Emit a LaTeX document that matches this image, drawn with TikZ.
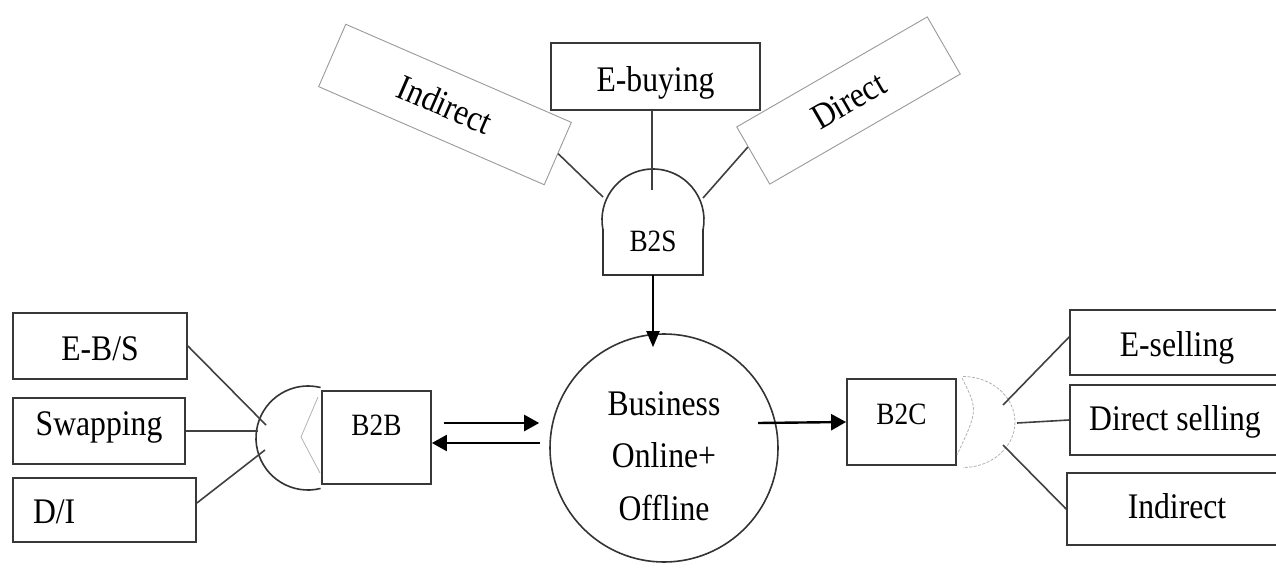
\documentclass[tikz,border=0pt]{standalone}
\usepackage{fontspec}
\setmainfont[FakeStretch=0.88]{Liberation Serif}
\usetikzlibrary{arrows.meta,calc}
% place a label so that its baseline sits #1 above the node centre
\newcommand{\basedat}[2]{\raisebox{#1}[0pt][0pt]{#2}}
\tikzset{
  box/.style={draw=black!78, line width=1.8pt, inner sep=0pt,
    font=\fontsize{36}{40}\selectfont},
  tiltbox/.style={draw=black!40, line width=0.9pt, inner sep=0pt,
    font=\fontsize{36}{40}\selectfont},
  gatebox/.style={inner sep=0pt, font=\fontsize{31}{34}\selectfont},
  link/.style={draw=black!75, line width=1.6pt},
  flow/.style={draw=black, line width=2.4pt, -{Triangle[length=15pt,width=16pt]}},
  gatefaint/.style={draw=black!30, line width=0.8pt},
}
\begin{document}
\begin{tikzpicture}[x=1pt,y=-1pt]
\useasboundingbox (0,0) rectangle (1276,570);
\clip (0,0) rectangle (1276,570);

% central process
\node[draw=black!80, line width=1.6pt, circle, minimum size=228pt, inner sep=0pt,
      font=\fontsize{36}{52.5}\selectfont] (biz) at (664,448)
      {\basedat{-72pt}{\begin{tabular}[b]{@{}c@{}}Business\\Online+\\Offline\end{tabular}}};

% ---- B2S (top) ----
\node[tiltbox, minimum width=246pt, minimum height=68pt, rotate=-23.5] (ind) at (445,104.5) {Indirect};
\node[tiltbox, minimum width=220pt, minimum height=66pt, rotate=30] (dir) at (848.5,100.5) {Direct};
\node[box, minimum width=209pt, minimum height=67pt] (ebuy) at (655.5,76.5) {\basedat{-15pt}{E-buying}};

\coordinate (b2sc) at (653,220);
\draw[draw=black!80, line width=1.6pt] (b2sc) ++(170:51) arc[start angle=170, end angle=370, radius=51];
\draw[draw=black!80, line width=1.6pt] (603,229) -- (603,275) -- (703,275) -- (703,229);
\node[gatebox, minimum width=100pt, minimum height=47pt] (b2s) at (653,251.5) {\basedat{0pt}{B2S}};

\coordinate (b2sTop) at (652,190);
\coordinate (b2sL) at (603,197);
\coordinate (b2sR) at (703,198);
\draw[link] (ebuy.south -| b2sTop) -- (b2sTop);
\draw[link] (ind.east) -- (b2sL);
\draw[link] ($(dir.west)!0.3!(dir.north west)$) -- (b2sR);

\draw[flow, line width=2pt, -{Triangle[length=16pt,width=13pt]}, shorten >=-14pt]
  (b2s.south) -- (b2s.south |- biz.north);

% ---- B2B (left) ----
\node[box, minimum width=174pt, minimum height=66pt] (ebs) at (100,346) {\basedat{-14pt}{E-B/S}};
\node[box, minimum width=172pt, minimum height=66pt] (swap) at (99,431) {\basedat{-4pt}{Swapping}};
\node[box, minimum width=183pt, minimum height=64pt, text width=143pt, inner xsep=20pt, align=left] (di) at (104.5,510) {\basedat{-13.5pt}{D/I}};

\coordinate (b2bc) at (308,438);
\draw[draw=black!80, line width=1.6pt] (b2bc) ++(76:52) arc[start angle=76, end angle=284, radius=52];
\draw[gatefaint] (318,397) -- (301,437) -- (320,473);
\node[box, minimum width=109pt, minimum height=93pt] (b2b) at (376.5,437.5)
  {\fontsize{31}{34}\selectfont\basedat{2pt}{B2B}};

\coordinate (b2bA) at (266,425);
\coordinate (b2bB) at (258,431);
\coordinate (b2bC) at (265,450);
\draw[link] (ebs.east) -- (b2bA);
\draw[link] (swap.east) -- (b2bB);
\draw[link] ([yshift=7pt]di.east) -- (b2bC);

\draw[flow] ([xshift=12pt,yshift=14.5pt]b2b.east) -- ([xshift=-10pt,yshift=25pt]biz.west);
\draw[flow] ([xshift=-9pt,yshift=5pt]biz.west) -- ([yshift=-5.5pt]b2b.east);

% ---- B2C (right) ----
\node[box, minimum width=109pt, minimum height=86pt] (b2c) at (901.5,422)
  {\fontsize{31}{34}\selectfont\basedat{-2pt}{B2C}};
\draw[flow] ([xshift=94pt,yshift=25pt]biz.center) -- (b2c.west);

\coordinate (b2cc) at (963,422);
\draw[gatefaint, dash pattern=on 3pt off 1.5pt] (b2cc) ++(-90:45.5)
  arc[start angle=-90, end angle=90, x radius=52, y radius=45.5];
\draw[gatefaint, dash pattern=on 3pt off 1.5pt] (962,378) .. controls (978,410) .. (957,455);

\node[box, minimum width=220pt, minimum height=65pt] (esell) at (1180,342.5) {\hspace*{-6pt}\basedat{-13.5pt}{E-selling}};
\node[box, minimum width=220pt, minimum height=70pt] (dsell) at (1180,420) {\hspace*{-10pt}\basedat{-10.5pt}{Direct selling}};
\node[box, minimum width=223pt, minimum height=72pt] (ind2) at (1178.5,509) {\hspace*{-3pt}\basedat{-9pt}{Indirect}};

\coordinate (b2cA) at (1003,405);
\coordinate (b2cB) at (1017,423);
\coordinate (b2cC) at (1003,445);
\draw[link] (b2cA) -- ([yshift=5.5pt]esell.west);
\draw[link] (b2cB) -- (dsell.west);
\draw[link] (b2cC) -- (ind2.west);
\end{tikzpicture}
\end{document}
